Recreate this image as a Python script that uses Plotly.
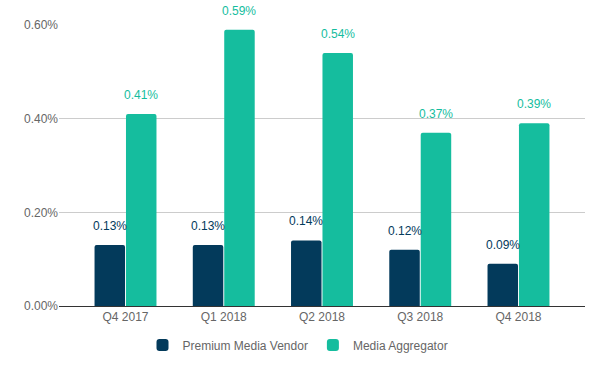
import plotly.graph_objects as go

categories = ["Q4 2017", "Q1 2018", "Q2 2018", "Q3 2018", "Q4 2018"]
premium = [0.13, 0.13, 0.14, 0.12, 0.09]
aggregator = [0.41, 0.59, 0.54, 0.37, 0.39]
series_names = ["Premium Media Vendor", "Media Aggregator"]
colors = ["#033A5B", "#15BD9E"]
yticks = [0, 0.2, 0.4, 0.6]
yticklabels = ["0.00%", "0.20%", "0.40%", "0.60%"]

FONT = "Liberation Sans, Arial, sans-serif"
bargap = 0.36
groupw = 1 - bargap
W, H = 604, 371

fig = go.Figure()
for i, (name, vals, col) in enumerate(zip(series_names, [premium, aggregator], colors)):
    fig.add_trace(go.Bar(
        x=categories, y=vals, name=name, marker_color=col,
        marker_line_width=0,
    ))
    off = (-0.25 if i == 0 else 0.25) * groupw
    for j, v in enumerate(vals):
        fig.add_annotation(x=j + off, y=v, xref="x", yref="y",
                           text=f"{v:.2f}%", showarrow=False,
                           yanchor="middle", yshift=19,
                           font=dict(family=FONT, size=12, color=col))

fig.update_layout(
    width=W, height=H,
    margin=dict(l=59, r=19, t=25, b=65, autoexpand=False),
    paper_bgcolor="white", plot_bgcolor="white",
    font=dict(family=FONT, size=12, color="#666666"),
    barmode="group", bargap=bargap, bargroupgap=0.03,
    barcornerradius=2,
    legend=dict(orientation="h", x=298 / W, xanchor="center", xref="container",
                y=(H - 345) / H, yanchor="middle", yref="container",
                font=dict(family=FONT, size=12, color="#666666"),
                itemwidth=30, tracegroupgap=0),
    showlegend=True,
)
fig.update_xaxes(range=[-0.677, 4.677], showgrid=False, showline=True,
                 linecolor="#333333", linewidth=1,
                 tickfont=dict(size=12, color="#666666"), ticks="")
fig.update_yaxes(range=[0, 0.6], tickvals=yticks, ticktext=yticklabels,
                 showgrid=True, gridcolor="#CCCCCC", zeroline=False,
                 tickfont=dict(size=12, color="#666666"), ticks="")
fig.write_html("out.html", config={"displayModeBar": False},
               post_script="document.body.style.margin='0';document.body.style.overflow='hidden';")
